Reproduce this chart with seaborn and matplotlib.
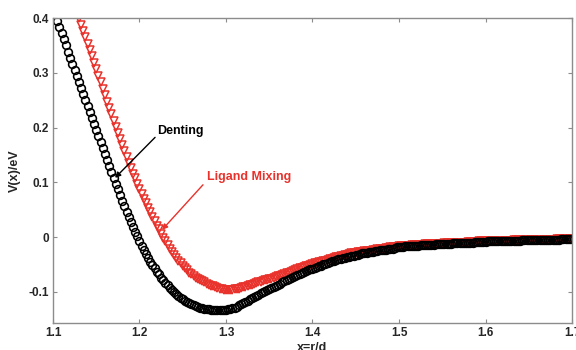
import matplotlib
matplotlib.use("Agg")
import matplotlib.pyplot as plt
import seaborn as sns

# sample positions x = r/d
r_over_d = [
    1.105, 1.1075, 1.11, 1.1125, 1.115, 1.1175, 1.12, 1.1225, 1.125, 1.1275,
    1.13, 1.1325, 1.135, 1.1375, 1.14, 1.1425, 1.145, 1.1475, 1.15, 1.1525,
    1.155, 1.1575, 1.16, 1.1625, 1.165, 1.1675, 1.17, 1.1725, 1.175, 1.1775,
    1.18, 1.1825, 1.185, 1.1875, 1.19, 1.1925, 1.195, 1.1975, 1.2, 1.2025,
    1.205, 1.2075, 1.21, 1.2125, 1.215, 1.2175, 1.22, 1.2225, 1.225, 1.2275,
    1.23, 1.2325, 1.235, 1.2375, 1.24, 1.2425, 1.245, 1.2475, 1.25, 1.2525,
    1.255, 1.2575, 1.26, 1.2625, 1.265, 1.2675, 1.27, 1.2725, 1.275, 1.2775,
    1.28, 1.2825, 1.285, 1.2875, 1.29, 1.2925, 1.295, 1.2975, 1.3, 1.3025,
    1.305, 1.3075, 1.31, 1.3125, 1.315, 1.3175, 1.32, 1.3225, 1.325, 1.3275,
    1.33, 1.3325, 1.335, 1.3375, 1.34, 1.3425, 1.345, 1.3475, 1.35, 1.3525,
    1.355, 1.3575, 1.36, 1.3625, 1.365, 1.3675, 1.37, 1.3725, 1.375, 1.3775,
    1.38, 1.3825, 1.385, 1.3875, 1.39, 1.3925, 1.395, 1.3975, 1.4, 1.4025,
    1.405, 1.4075, 1.41, 1.4125, 1.415, 1.4175, 1.42, 1.4225, 1.425, 1.4275,
    1.43, 1.4325, 1.435, 1.4375, 1.44, 1.4425, 1.445, 1.4475, 1.45, 1.4525,
    1.455, 1.4575, 1.46, 1.4625, 1.465, 1.4675, 1.47, 1.4725, 1.475, 1.4775,
    1.48, 1.4825, 1.485, 1.4875, 1.49, 1.4925, 1.495, 1.4975, 1.5, 1.5025,
    1.505, 1.5075, 1.51, 1.5125, 1.515, 1.5175, 1.52, 1.5225, 1.525, 1.5275,
    1.53, 1.5325, 1.535, 1.5375, 1.54, 1.5425, 1.545, 1.5475, 1.55, 1.5525,
    1.555, 1.5575, 1.56, 1.5625, 1.565, 1.5675, 1.57, 1.5725, 1.575, 1.5775,
    1.58, 1.5825, 1.585, 1.5875, 1.59, 1.5925, 1.595, 1.5975, 1.6, 1.6025,
    1.605, 1.6075, 1.61, 1.6125, 1.615, 1.6175, 1.62, 1.6225, 1.625, 1.6275,
    1.63, 1.6325, 1.635, 1.6375, 1.64, 1.6425, 1.645, 1.6475, 1.65, 1.6525,
    1.655, 1.6575, 1.66, 1.6625, 1.665, 1.6675, 1.67, 1.6725, 1.675, 1.6775,
    1.68, 1.6825, 1.685, 1.6875, 1.69, 1.6925, 1.695, 1.6975, 1.7,
]

# Denting, V(x) in eV, one value per r_over_d entry
denting = [
    0.395, 0.384, 0.372, 0.361, 0.350, 0.338, 0.327, 0.316, 0.305, 0.294,
    0.283, 0.272, 0.261, 0.250, 0.239, 0.228, 0.217, 0.206, 0.195, 0.184,
    0.173, 0.162, 0.151, 0.140, 0.130, 0.119, 0.108, 0.097, 0.087, 0.076,
    0.066, 0.056, 0.046, 0.037, 0.027, 0.018, 0.010, 0.001, -0.008, -0.016,
    -0.023, -0.031, -0.038, -0.045, -0.051, -0.057, -0.063, -0.068, -0.074, -0.079,
    -0.084, -0.088, -0.093, -0.097, -0.101, -0.104, -0.108, -0.111, -0.114, -0.117,
    -0.119, -0.121, -0.123, -0.125, -0.126, -0.128, -0.129, -0.130, -0.131, -0.132,
    -0.132, -0.133, -0.133, -0.134, -0.134, -0.134, -0.134, -0.134, -0.133, -0.132,
    -0.131, -0.130, -0.129, -0.127, -0.125, -0.123, -0.121, -0.119, -0.116, -0.114,
    -0.111, -0.109, -0.107, -0.105, -0.103, -0.101, -0.099, -0.097, -0.095, -0.093,
    -0.091, -0.089, -0.087, -0.085, -0.083, -0.081, -0.079, -0.077, -0.075, -0.073,
    -0.071, -0.069, -0.067, -0.065, -0.064, -0.062, -0.061, -0.059, -0.058, -0.056,
    -0.055, -0.053, -0.052, -0.050, -0.049, -0.047, -0.046, -0.044, -0.043, -0.042,
    -0.041, -0.040, -0.039, -0.038, -0.037, -0.036, -0.035, -0.034, -0.033, -0.032,
    -0.031, -0.030, -0.030, -0.029, -0.028, -0.027, -0.027, -0.026, -0.025, -0.024,
    -0.024, -0.023, -0.023, -0.022, -0.021, -0.021, -0.020, -0.019, -0.019, -0.018,
    -0.018, -0.017, -0.017, -0.017, -0.017, -0.016, -0.016, -0.016, -0.015, -0.015,
    -0.015, -0.014, -0.014, -0.014, -0.014, -0.013, -0.013, -0.013, -0.013, -0.012,
    -0.012, -0.012, -0.012, -0.011, -0.011, -0.011, -0.011, -0.010, -0.010, -0.010,
    -0.010, -0.010, -0.010, -0.009, -0.009, -0.009, -0.009, -0.009, -0.009, -0.008,
    -0.008, -0.008, -0.008, -0.008, -0.008, -0.008, -0.008, -0.007, -0.007, -0.007,
    -0.007, -0.007, -0.007, -0.007, -0.007, -0.006, -0.006, -0.006, -0.006, -0.006,
    -0.006, -0.006, -0.006, -0.005, -0.005, -0.005, -0.005, -0.005, -0.005, -0.005,
    -0.005, -0.005, -0.005, -0.004, -0.004, -0.004, -0.004, -0.004, -0.004,
]

# Ligand Mixing, V(x) in eV, from r_over_d[10] (x = 1.13) onward
ligand_start = 10
ligand_mixing = [
    0.400, 0.388, 0.377, 0.365, 0.353, 0.341, 0.330, 0.318, 0.306, 0.294,
    0.283, 0.271, 0.259, 0.247, 0.236, 0.224, 0.212, 0.201, 0.190, 0.179,
    0.168, 0.157, 0.147, 0.136, 0.126, 0.116, 0.107, 0.097, 0.088, 0.079,
    0.070, 0.062, 0.053, 0.045, 0.037, 0.029, 0.021, 0.014, 0.006, -0.001,
    -0.008, -0.014, -0.021, -0.027, -0.033, -0.038, -0.043, -0.048, -0.053, -0.057,
    -0.061, -0.065, -0.068, -0.071, -0.074, -0.077, -0.079, -0.081, -0.083, -0.085,
    -0.087, -0.089, -0.090, -0.092, -0.093, -0.094, -0.095, -0.096, -0.096, -0.096,
    -0.096, -0.096, -0.095, -0.095, -0.094, -0.093, -0.092, -0.091, -0.089, -0.088,
    -0.087, -0.086, -0.084, -0.083, -0.082, -0.081, -0.079, -0.078, -0.077, -0.076,
    -0.074, -0.073, -0.072, -0.071, -0.069, -0.068, -0.066, -0.065, -0.063, -0.062,
    -0.060, -0.059, -0.057, -0.056, -0.054, -0.053, -0.052, -0.051, -0.049, -0.048,
    -0.047, -0.046, -0.045, -0.044, -0.043, -0.042, -0.041, -0.040, -0.038, -0.037,
    -0.036, -0.035, -0.034, -0.033, -0.032, -0.031, -0.030, -0.030, -0.029, -0.028,
    -0.027, -0.027, -0.026, -0.026, -0.025, -0.025, -0.024, -0.023, -0.022, -0.022,
    -0.021, -0.021, -0.020, -0.020, -0.019, -0.019, -0.018, -0.018, -0.017, -0.017,
    -0.016, -0.016, -0.016, -0.016, -0.015, -0.015, -0.014, -0.014, -0.014, -0.014,
    -0.013, -0.013, -0.013, -0.013, -0.012, -0.012, -0.012, -0.012, -0.012, -0.011,
    -0.011, -0.011, -0.011, -0.011, -0.010, -0.010, -0.010, -0.010, -0.010, -0.010,
    -0.009, -0.009, -0.009, -0.009, -0.009, -0.008, -0.008, -0.008, -0.008, -0.008,
    -0.008, -0.008, -0.008, -0.007, -0.007, -0.007, -0.007, -0.007, -0.007, -0.007,
    -0.007, -0.006, -0.006, -0.006, -0.006, -0.006, -0.006, -0.006, -0.006, -0.006,
    -0.006, -0.005, -0.005, -0.005, -0.005, -0.005, -0.005, -0.005, -0.005, -0.005,
    -0.005, -0.004, -0.004, -0.004, -0.004, -0.004, -0.004, -0.004, -0.004,
]

x_ticks = [1.1, 1.2, 1.3, 1.4, 1.5, 1.6, 1.7]
x_tick_labels = ["1.1", "1.2", "1.3", "1.4", "1.5", "1.6", "1.7"]
y_ticks = [-0.1, 0.0, 0.1, 0.2, 0.3, 0.4]
y_tick_labels = ["-0.1", "0", "0.1", "0.2", "0.3", "0.4"]

sns.set_theme(style="ticks")
plt.rcParams["font.family"] = ["Liberation Sans", "DejaVu Sans"]
plt.rcParams["font.weight"] = "bold"

RED = "#e8322b"
AXIS_GREY = "#8c8c8c"

fig = plt.figure(figsize=(5.76, 3.5), dpi=100)
ax = fig.add_axes([53 / 576, 27 / 350, 519 / 576, 305 / 350])

sns.lineplot(x=r_over_d[ligand_start:], y=ligand_mixing, ax=ax, linestyle="",
             marker="v", markersize=6.0, markerfacecolor="none",
             markeredgecolor=RED, markeredgewidth=1.1, legend=False)
sns.lineplot(x=r_over_d, y=denting, ax=ax, linestyle="", marker="o",
             markersize=5.6, markerfacecolor="none", markeredgecolor="black",
             markeredgewidth=1.15, legend=False)

ax.set_xlim(1.1, 1.7)
ax.set_ylim(-0.157, 0.4)
ax.set_xticks(x_ticks)
ax.set_xticklabels(x_tick_labels, fontsize=8.5, fontweight="bold")
ax.set_yticks(y_ticks)
ax.set_yticklabels(y_tick_labels, fontsize=8.5, fontweight="bold")
ax.tick_params(direction="in", length=3, width=0.8, color=AXIS_GREY,
               top=True, right=True, pad=3)
for side in ["left", "right", "top", "bottom"]:
    ax.spines[side].set_visible(True)
    ax.spines[side].set_color(AXIS_GREY)
    ax.spines[side].set_linewidth(1.0)

ax.set_xlabel("x=r/d", fontsize=9, fontweight="bold", labelpad=2)
ax.set_ylabel("V(x)/eV", fontsize=9, fontweight="bold", labelpad=5)

# annotations with arrows
ax.text(1.2202, 0.1945, "Denting", fontsize=9, fontweight="bold",
        color="black", ha="left", va="center")
ax.annotate("", xy=(1.1717, 0.108), xytext=(1.218, 0.182),
            arrowprops=dict(arrowstyle="-|>", color="black", lw=1.0,
                            mutation_scale=8, shrinkA=0, shrinkB=0))
ax.text(1.278, 0.110, "Ligand Mixing", fontsize=9, fontweight="bold",
        color=RED, ha="left", va="center")
ax.annotate("", xy=(1.226, 0.013), xytext=(1.2734, 0.0954),
            arrowprops=dict(arrowstyle="-|>", color=RED, lw=1.0,
                            mutation_scale=8, shrinkA=0, shrinkB=0))

fig.savefig("out.png", dpi=100)
plt.close(fig)
